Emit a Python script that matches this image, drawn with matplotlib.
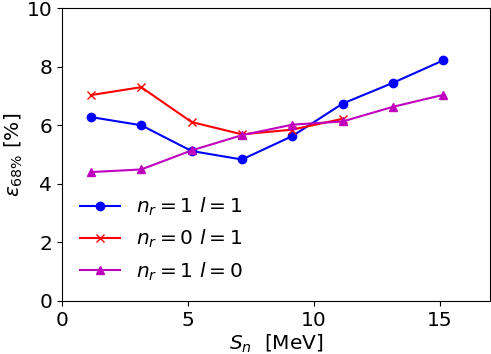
import matplotlib
matplotlib.use("Agg")
import matplotlib.pyplot as plt

sn = [1.15, 3.15, 5.15, 7.15, 9.15, 11.15, 13.15, 15.15]
eps_n1_l1 = [6.28, 6.0, 5.12, 4.83, 5.63, 6.74, 7.45, 8.22]
eps_n0_l1 = [7.03, 7.30, 6.11, 5.69, 5.85, 6.22]
eps_n1_l0 = [4.40, 4.49, 5.14, 5.66, 6.02, 6.13, 6.63, 7.04]

plt.rcParams["font.size"] = 14.5
plt.rcParams["mathtext.fontset"] = "dejavusans"

fig, ax = plt.subplots(figsize=(4.91, 3.54), dpi=100)
ax.plot(sn, eps_n1_l1, "b-o", label=r"$n_r=1\ l=1$", markersize=6)
ax.plot(sn[:len(eps_n0_l1)], eps_n0_l1, "r-x", label=r"$n_r=0\ l=1$", markersize=6)
ax.plot(sn, eps_n1_l0, "m-^", label=r"$n_r=1\ l=0$", markersize=6)

ax.set_xlim(0, 17)
ax.set_ylim(0, 10)
ax.set_xticks([0, 5, 10, 15])
ax.set_yticks([0, 2, 4, 6, 8, 10])
ax.set_xlabel(r"$S_n$  [MeV]", labelpad=2)
ax.set_ylabel(r"$\varepsilon_{68\%}$ [%]", labelpad=1)
ax.legend(loc="lower left", frameon=False)

fig.subplots_adjust(left=0.126, right=0.998, top=0.977, bottom=0.15)
fig.savefig("out.png", dpi=100)
